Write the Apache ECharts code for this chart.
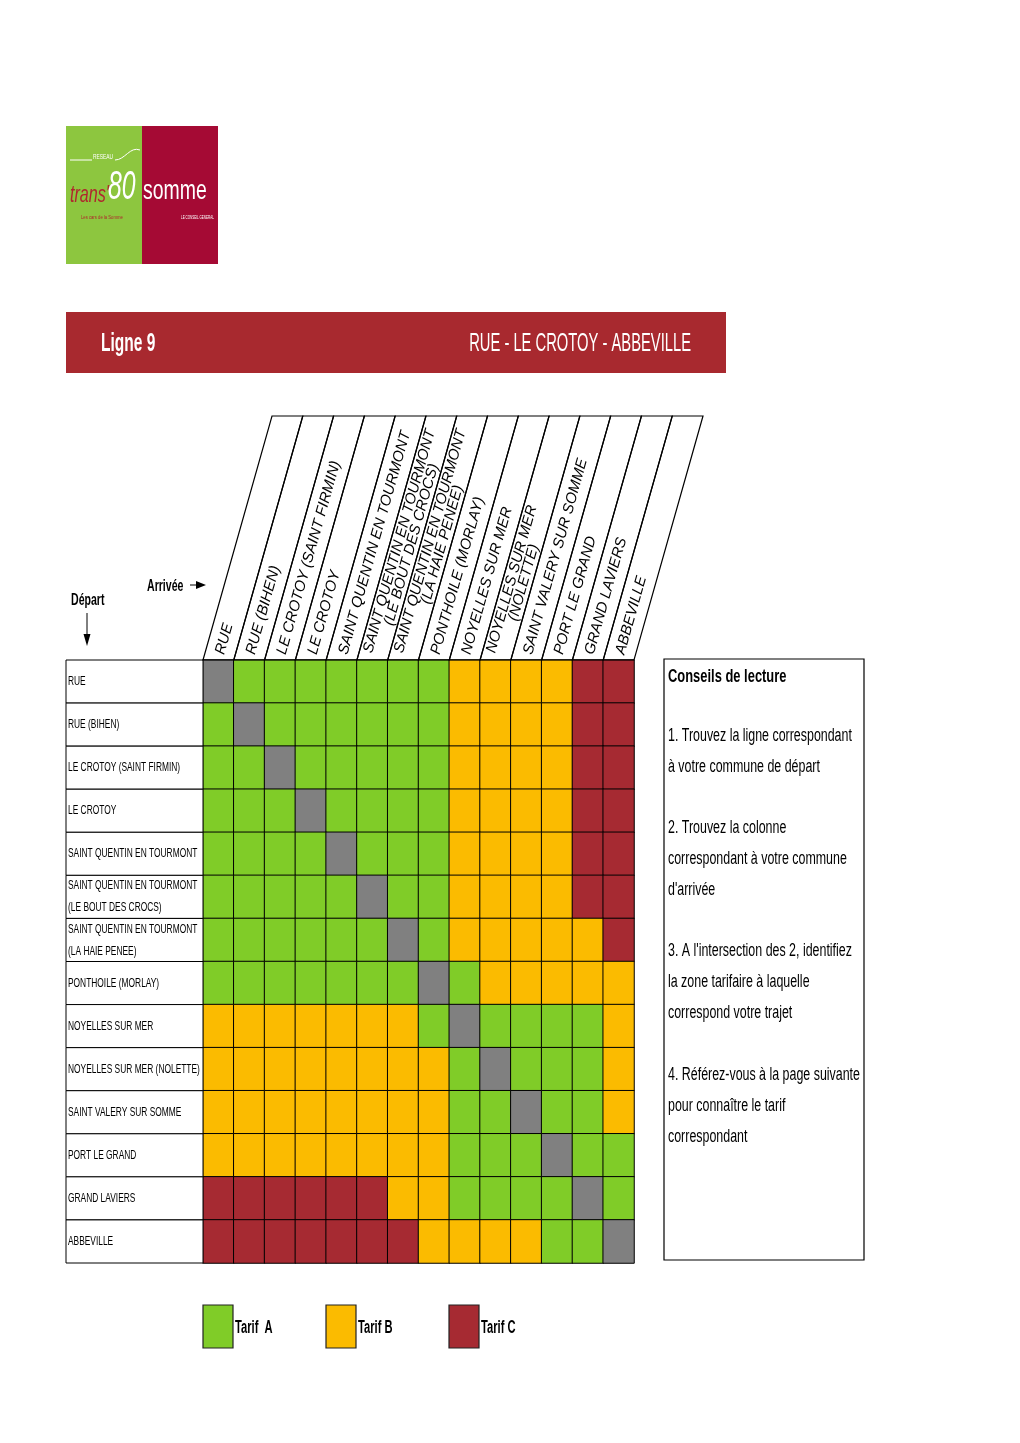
<!DOCTYPE html>
<html>
<head>
<meta charset="utf-8">
<script src="https://cdn.jsdelivr.net/npm/echarts@6/dist/echarts.min.js"></script>
<style>
html,body{margin:0;padding:0;background:#fff;}
#chart{width:1020px;height:1443px;}
</style>
</head>
<body>
<div id="chart"></div>
<script>
// ---- data ----
const arrivals = ['RUE','RUE (BIHEN)','LE CROTOY (SAINT FIRMIN)','LE CROTOY','SAINT QUENTIN EN TOURMONT',
  'SAINT QUENTIN EN TOURMONT\n(LE BOUT DES CROCS)','SAINT QUENTIN EN TOURMONT\n(LA HAIE PENEE)','PONTHOILE (MORLAY)',
  'NOYELLES SUR MER','NOYELLES SUR MER\n(NOLETTE)','SAINT VALERY SUR SOMME','PORT LE GRAND','GRAND LAVIERS','ABBEVILLE'];
const departures = ['RUE','RUE (BIHEN)','LE CROTOY (SAINT FIRMIN)','LE CROTOY','SAINT QUENTIN EN TOURMONT',
  'SAINT QUENTIN EN TOURMONT\n(LE BOUT DES CROCS)','SAINT QUENTIN EN TOURMONT\n(LA HAIE PENEE)','PONTHOILE (MORLAY)',
  'NOYELLES SUR MER','NOYELLES SUR MER (NOLETTE)','SAINT VALERY SUR SOMME','PORT LE GRAND','GRAND LAVIERS','ABBEVILLE'];
// 0 = same stop, 1 = Tarif A, 2 = Tarif B, 3 = Tarif C
const tarifs = [
  [0,1,1,1,1,1,1,1,2,2,2,2,3,3],
  [1,0,1,1,1,1,1,1,2,2,2,2,3,3],
  [1,1,0,1,1,1,1,1,2,2,2,2,3,3],
  [1,1,1,0,1,1,1,1,2,2,2,2,3,3],
  [1,1,1,1,0,1,1,1,2,2,2,2,3,3],
  [1,1,1,1,1,0,1,1,2,2,2,2,3,3],
  [1,1,1,1,1,1,0,1,2,2,2,2,2,3],
  [1,1,1,1,1,1,1,0,1,2,2,2,2,2],
  [2,2,2,2,2,2,2,1,0,1,1,1,1,2],
  [2,2,2,2,2,2,2,2,1,0,1,1,1,2],
  [2,2,2,2,2,2,2,2,1,1,0,1,1,2],
  [2,2,2,2,2,2,2,2,1,1,1,0,1,1],
  [3,3,3,3,3,3,2,2,1,1,1,1,0,1],
  [3,3,3,3,3,3,3,2,2,2,2,1,1,0]
];
const tarifValues = [1, 2, 3];
const tarifNames = ['Tarif  A','Tarif B','Tarif C'];
const conseils = [
  ['1. Trouvez la ligne correspondant','à votre commune de départ'],
  ['2. Trouvez la colonne','correspondant à votre commune',"d'arrivée"],
  ["3. A l'intersection des 2, identifiez",'la zone tarifaire à laquelle','correspond votre trajet'],
  ['4. Référez-vous à la page suivante','pour connaître le tarif','correspondant']
];

// ---- styles ----
const GREEN = '#80cc28', ORANGE = '#fbbb00', RED = '#a62a32', GRAY = '#808080';
const TARIF_COLORS = [GREEN, ORANGE, RED];
const BAND = '#a8292f';
const SANS = "'Liberation Sans', Arial, sans-serif";

const heatData = [];
tarifs.forEach((row, r) => row.forEach((v, c) => heatData.push([c, r, v])));

const measureCtx = document.createElement('canvas').getContext('2d');
function textW(t, font){ measureCtx.font = font; return measureCtx.measureText(t).width; }

const HDR_H = 244, HDR_DX = 69;
const HL = Math.sqrt(HDR_H*HDR_H + HDR_DX*HDR_DX);
const cosT = HDR_DX/HL, sinT = HDR_H/HL, theta = Math.atan2(HDR_H, HDR_DX);
const HDR_FONT_SIZE = 15;
const HDR_FONT = 'italic ' + HDR_FONT_SIZE + 'px ' + SANS;

const chart = echarts.init(document.getElementById('chart'), null, {renderer: 'canvas'});

const option = {
  backgroundColor: '#fff',
  animation: false,
  grid: [
    {left: 66, top: 660, width: 137, height: 603},
    {left: 203, top: 660, width: 431, height: 603}
  ],
  xAxis: [
    {gridIndex: 0, type: 'category', data: ['dep'], show: false},
    {gridIndex: 1, type: 'category', data: arrivals, show: false}
  ],
  yAxis: [
    {gridIndex: 0, type: 'category', data: departures, inverse: true, show: false},
    {gridIndex: 1, type: 'category', data: departures, inverse: true, show: false}
  ],
  visualMap: {
    type: 'piecewise',
    show: false,
    seriesIndex: 0,
    dimension: 2,
    pieces: tarifValues.map((v, k) => ({value: v, label: tarifNames[k], color: TARIF_COLORS[k]})),
    outOfRange: {color: GRAY}
  },
  series: [
    {
      type: 'heatmap',
      xAxisIndex: 1, yAxisIndex: 1,
      data: heatData,
      itemStyle: {borderColor: '#000', borderWidth: 1},
      emphasis: {disabled: true}
    },
    {
      // departure label cells
      type: 'custom',
      xAxisIndex: 0, yAxisIndex: 0,
      data: departures.map((d, i) => [0, i]),
      silent: true,
      renderItem: function(params, api){
        const j = api.value(1);
        const c = api.coord([0, j]);
        const s = api.size([1, 1]);
        const x0 = c[0] - s[0]/2, y0 = c[1] - s[1]/2;
        return {
          type: 'group',
          children: [
            {type: 'rect', shape: {x: x0, y: y0, width: s[0], height: s[1]},
              style: {fill: '#fff', stroke: '#000', lineWidth: 1}},
            {type: 'text', x: x0 + 2, y: c[1], scaleX: 0.645,
              style: {text: departures[j], x: 0, y: 0, align: 'left', verticalAlign: 'middle',
                font: '13px ' + SANS, fill: '#000', lineHeight: 22}}
          ]
        };
      }
    },
    {
      // slanted arrival headers
      type: 'custom',
      xAxisIndex: 1, yAxisIndex: 1,
      data: arrivals.map((a, i) => [i, 0]),
      silent: true,
      clip: false,
      renderItem: function(params, api){
        const i = api.value(0);
        const c = api.coord([i, 0]);
        const s = api.size([1, 1]);
        const cw = s[0];
        const xl = c[0] - cw/2;
        const top = params.coordSys.y;
        const children = [{
          type: 'polygon',
          shape: {points: [[xl, top], [xl + HDR_DX, top - HDR_H], [xl + cw + HDR_DX, top - HDR_H], [xl + cw, top]]},
          style: {fill: 'none', stroke: '#000', lineWidth: 1.2}
        }];
        const xc = xl + cw/2;
        const s0 = 6;
        const px = xc + cosT*s0, py = top - sinT*s0;
        const lines = arrivals[i].split('\n');
        const vx = sinT, vy = cosT;
        if (lines.length === 1) {
          children.push({type: 'text', x: px, y: py, rotation: theta,
            style: {text: lines[0], x: 0, y: 0, align: 'left', verticalAlign: 'middle', font: HDR_FONT, fill: '#000'}});
        } else {
          const lh = 12.5;
          const w1 = textW(lines[0], HDR_FONT);
          const p1x = px - vx*lh/2, p1y = py - vy*lh/2;
          children.push({type: 'text', x: p1x, y: p1y, rotation: theta,
            style: {text: lines[0], x: 0, y: 0, align: 'left', verticalAlign: 'middle', font: HDR_FONT, fill: '#000'}});
          const p2x = px + vx*lh/2 + cosT*w1/2, p2y = py + vy*lh/2 - sinT*w1/2;
          children.push({type: 'text', x: p2x, y: p2y, rotation: theta,
            style: {text: lines[1], x: 0, y: 0, align: 'center', verticalAlign: 'middle', font: HDR_FONT, fill: '#000'}});
        }
        return {type: 'group', children: children};
      }
    }
  ],
  graphic: []
};

// ---- decorations: logo, title band, hints, reading-advice panel, legend ----
const g = [];
// logo
g.push({type: 'rect', shape: {x: 66, y: 126, width: 76, height: 138}, style: {fill: '#8dc63f'}});
g.push({type: 'rect', shape: {x: 142, y: 126, width: 76, height: 138}, style: {fill: '#a50a34'}});
g.push({type: 'polyline', shape: {points: [[70, 160], [92, 160]]}, style: {stroke: '#fff', lineWidth: 1}});
g.push({type: 'bezierCurve', shape: {x1: 115, y1: 160, x2: 140, y2: 150, cpx1: 125, cpy1: 160, cpx2: 130, cpy2: 146},
  style: {stroke: '#fff', lineWidth: 1, fill: 'none'}});
g.push({type: 'text', x: 93, y: 157, scaleX: 0.7, style: {text: 'RESEAU', font: '7px ' + SANS, fill: '#fff', verticalAlign: 'middle'}});
g.push({type: 'text', x: 70, y: 196, scaleX: 0.7, style: {text: "trans'", font: 'italic 23px ' + SANS, fill: '#b0262d', verticalAlign: 'middle'}});
g.push({type: 'text', x: 108, y: 188, scaleX: 0.62, style: {text: '80', font: 'italic 40px ' + SANS, fill: '#fff', verticalAlign: 'middle'}});
g.push({type: 'text', x: 81, y: 217, scaleX: 0.7, style: {text: 'Les cars de la Somme', font: '6px ' + SANS, fill: '#b0262d', verticalAlign: 'middle'}});
g.push({type: 'text', x: 143, y: 192, scaleX: 0.72, style: {text: 'somme', font: '27px ' + SANS, fill: '#fff', verticalAlign: 'middle'}});
g.push({type: 'text', x: 181, y: 218, scaleX: 0.6, style: {text: 'LE CONSEIL GENERAL', font: '5px ' + SANS, fill: '#fff', verticalAlign: 'middle'}});
// title band
g.push({type: 'rect', shape: {x: 66, y: 312, width: 660, height: 61}, style: {fill: BAND}});
g.push({type: 'text', x: 101, y: 344, scaleX: 0.62, style: {text: 'Ligne 9', font: 'bold 25px ' + SANS, fill: '#fff', verticalAlign: 'middle'}});
g.push({type: 'text', x: 691, y: 344, scaleX: 0.59, style: {text: 'RUE - LE CROTOY - ABBEVILLE', font: '25px ' + SANS, fill: '#fff', align: 'right', verticalAlign: 'middle'}});
// Départ / Arrivée hints
g.push({type: 'text', x: 71, y: 601, scaleX: 0.66, style: {text: 'Départ', font: 'bold 16px ' + SANS, fill: '#000', verticalAlign: 'middle'}});
g.push({type: 'line', shape: {x1: 87, y1: 613, x2: 87, y2: 636}, style: {stroke: '#000', lineWidth: 1}});
g.push({type: 'polygon', shape: {points: [[83.5, 634], [90.5, 634], [87, 646]]}, style: {fill: '#000'}});
g.push({type: 'text', x: 147, y: 587, scaleX: 0.66, style: {text: 'Arrivée', font: 'bold 16px ' + SANS, fill: '#000', verticalAlign: 'middle'}});
g.push({type: 'line', shape: {x1: 190, y1: 585, x2: 198, y2: 585}, style: {stroke: '#000', lineWidth: 1}});
g.push({type: 'polygon', shape: {points: [[196, 581], [196, 589], [206, 585]]}, style: {fill: '#000'}});
// reading advice panel
g.push({type: 'rect', shape: {x: 664, y: 659, width: 200, height: 601}, style: {fill: 'none', stroke: '#000', lineWidth: 1.2}});
g.push({type: 'text', x: 668, y: 677, scaleX: 0.68, style: {text: 'Conseils de lecture', font: 'bold 19px ' + SANS, fill: '#000', verticalAlign: 'middle'}});
const blockTops = [736, 828, 951, 1075];
conseils.forEach((blk, b) => {
  blk.forEach((line, k) => {
    g.push({type: 'text', x: 668, y: blockTops[b] + k*31, scaleX: 0.69,
      style: {text: line, font: '18px ' + SANS, fill: '#000', verticalAlign: 'middle'}});
  });
});
// legend (colour key of the visualMap pieces)
tarifNames.forEach((name, k) => {
  const lx = 203 + k*123;
  g.push({type: 'rect', shape: {x: lx, y: 1305, width: 30, height: 43},
    style: {fill: TARIF_COLORS[k], stroke: '#222', lineWidth: 1.2}});
  g.push({type: 'text', x: lx + 32, y: 1328, scaleX: 0.62,
    style: {text: name, font: 'bold 18px ' + SANS, fill: '#000', verticalAlign: 'middle'}});
});
option.graphic = g;

chart.setOption(option);
</script>
</body>
</html>
